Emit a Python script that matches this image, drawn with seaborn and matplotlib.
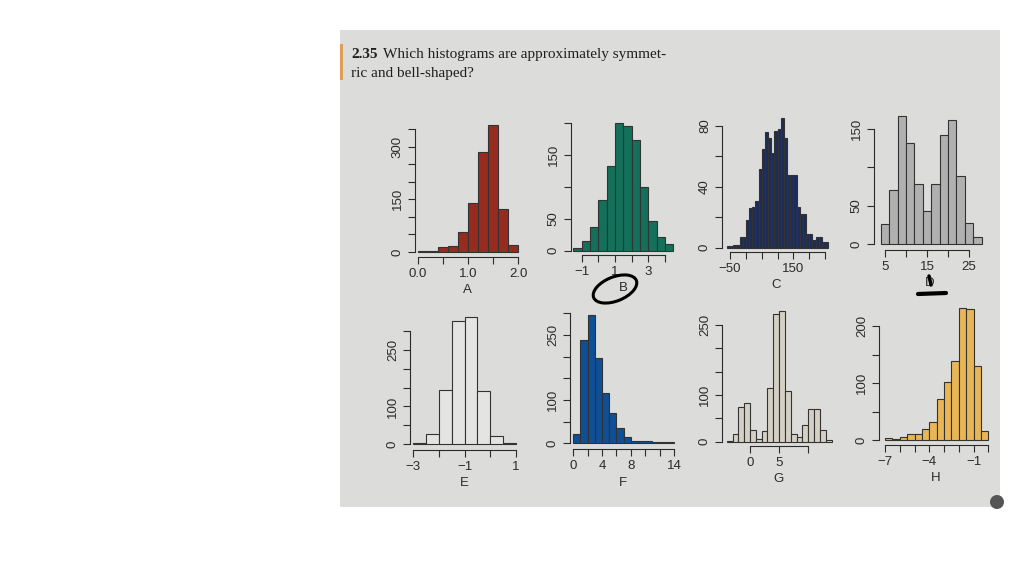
import matplotlib.pyplot as plt
import matplotlib.patches as mpatches
import matplotlib.lines as mlines
from matplotlib.transforms import IdentityTransform
import numpy as np
import pandas as pd
import seaborn as sns

# bins (start, stop, width) and counts
a_range = (0.0, 2.0, 0.2)
a_counts = [3, 3, 14, 17, 57, 139, 284, 360, 121, 20]
b_range = (-1.5, 4.5, 0.5)
b_counts = [5, 16, 37, 80, 133, 200, 195, 173, 100, 46, 22, 10]
c_range = (-60, 260, 10)
c_counts = [1, 1, 2, 2, 7, 7, 18, 26, 27, 31, 52, 65, 76, 72, 62, 77,
            78, 85, 72, 48, 48, 48, 27, 22, 22, 9, 9, 5, 7, 7, 4, 4]
d_range = (4, 28, 2)
d_counts = [26, 70, 167, 132, 79, 43, 79, 142, 162, 89, 28, 10]
e_range = (-3.0, 1.0, 0.5)
e_counts = [3, 26, 144, 325, 337, 142, 22, 3]
f_range = (0, 14, 1)
f_counts = [21, 239, 295, 198, 117, 69, 35, 15, 6, 6, 5, 3, 3, 3]
g_range = (-4, 14, 1)
g_counts = [2, 16, 75, 82, 25, 5, 23, 114, 273, 280, 108, 17, 9, 36, 69, 69, 24, 4]
h_range = (-7.0, 0.0, 0.5)
h_counts = [3, 2, 6, 10, 10, 20, 31, 72, 101, 139, 231, 229, 130, 16]

M = '\u2212'
a_xticks = [0, 0.5, 1.0, 1.5, 2.0]
a_xlabels = ['0.0', '', '1.0', '', '2.0']
b_xticks = [-1, 0, 1, 2, 3, 4]
b_xlabels = [M + '1', '', '1', '', '3', '']
c_xticks = [-50, 0, 50, 100, 150, 200, 250]
c_xlabels = [M + '50', '', '', '', '150', '', '']
d_xticks = [5, 10, 15, 20, 25]
d_xlabels = ['5', '', '15', '', '25']
e_xticks = [-3, -2, -1, 0, 1]
e_xlabels = [M + '3', '', M + '1', '', '1']
f_xticks = [0, 2, 4, 6, 8, 10, 12, 14]
f_xlabels = ['0', '', '4', '', '8', '', '', '14']
g_xticks = [0, 5, 10]
g_xlabels = ['0', '5', '']
h_xticks = [-7, -6, -5, -4, -3, -2, -1, 0]
h_xlabels = [M + '7', '', '', M + '4', '', '', M + '1', '']

a_yticks = [0, 50, 100, 150, 200, 250, 300, 350]
a_ylabels = ['0', '', '', '150', '', '', '300', '']
b_yticks = [0, 50, 100, 150, 200]
b_ylabels = ['0', '50', '', '150', '']
c_yticks = [0, 20, 40, 60, 80]
c_ylabels = ['0', '', '40', '', '80']
d_yticks = [0, 50, 100, 150]
d_ylabels = ['0', '50', '', '150']
e_yticks = [0, 50, 100, 150, 200, 250, 300]
e_ylabels = ['0', '', '100', '', '', '250', '']
f_yticks = [0, 50, 100, 150, 200, 250, 300]
f_ylabels = ['0', '', '100', '', '', '250', '']
g_yticks = [0, 50, 100, 150, 200, 250]
g_ylabels = ['0', '', '100', '', '', '250']
h_yticks = [0, 50, 100, 150, 200]
h_ylabels = ['0', '', '100', '', '200']

W, H = 1024, 576
sns.set_style('ticks')
plt.rcParams['font.family'] = ['Liberation Sans', 'DejaVu Sans']

fig = plt.figure(figsize=(W / 100, H / 100), dpi=100, facecolor='white')

# the photographed page
fig.patches.append(mpatches.Rectangle((340 / W, 1 - 507 / H), 660 / W, 477 / H,
                                      transform=fig.transFigure, facecolor='#dcdcda',
                                      edgecolor='none', zorder=-5))
fig.patches.append(mpatches.Rectangle((340 / W, 1 - 80 / H), 3 / W, 36 / H,
                                      transform=fig.transFigure, facecolor='#d9a05a',
                                      edgecolor='none', zorder=-4))

fig.text(351 / W, 1 - 58 / H, '2.35', fontsize=11, fontweight='bold',
         family='Liberation Serif', color='#1e1e1e')
fig.text(383 / W, 1 - 58 / H, 'Which histograms are approximately symmet-',
         fontsize=11, family='Liberation Serif', color='#1e1e1e')
fig.text(351 / W, 1 - 77 / H, 'ric and bell-shaped?', fontsize=11,
         family='Liberation Serif', color='#1e1e1e')

ink = '#2b2b2b'


def panel(rng, counts, color, label, xticks, xlabels, yticks, ylabels,
          xref, yref, yspine, xspine, xhi, yhi):
    fx = lambda v: xref[0][1] + (v - xref[0][0]) * (xref[1][1] - xref[0][1]) / (xref[1][0] - xref[0][0])
    fy = lambda v: yref[0][1] + (v - yref[0][0]) * (yref[1][1] - yref[0][1]) / (yref[1][0] - yref[0][0])
    ix = lambda p: xref[0][0] + (p - xref[0][1]) * (xref[1][0] - xref[0][0]) / (xref[1][1] - xref[0][1])
    iy = lambda p: yref[0][0] + (p - yref[0][1]) * (yref[1][0] - yref[0][0]) / (yref[1][1] - yref[0][1])
    xlo, ylo = ix(yspine), iy(xspine)
    left, right = yspine, fx(xhi)
    top = fy(yhi)
    ax = fig.add_axes([left / W, 1 - xspine / H, (right - left) / W, (xspine - top) / H])
    ax.set_facecolor('none')

    start, stop, width = rng
    edges = np.linspace(start, stop, len(counts) + 1)
    df = pd.DataFrame({'value': (edges[:-1] + edges[1:]) / 2, 'count': counts})
    sns.histplot(data=df, x='value', weights='count', bins=list(edges), ax=ax,
                 color=color, edgecolor='#333333', linewidth=0.8, alpha=1)

    ax.set_xlim(xlo, xhi)
    ax.set_ylim(ylo, yhi)
    ax.set_xticks(xticks)
    ax.set_xticklabels(xlabels)
    ax.set_yticks(yticks)
    ax.set_yticklabels(ylabels, rotation=90, va='center')
    for s in ['top', 'right']:
        ax.spines[s].set_visible(False)
    ax.spines['bottom'].set_bounds(xticks[0], xticks[-1])
    ax.spines['left'].set_bounds(yticks[0], yticks[-1])
    for s in ['bottom', 'left']:
        ax.spines[s].set_color(ink)
        ax.spines[s].set_linewidth(0.8)
    ax.tick_params(length=5, width=0.8, color=ink, labelcolor=ink,
                   labelsize=9.5, pad=3)
    ax.set_xlabel(label, fontsize=9.5, color=ink, labelpad=3)
    ax.set_ylabel('')
    return ax


panel(a_range, a_counts, '#982b20', 'A', a_xticks, a_xlabels, a_yticks, a_ylabels,
      ((0, 418), (2, 518)), ((0, 252), (350, 129)), 415, 257, 2.05, 370)
panel(b_range, b_counts, '#13705a', 'B', b_xticks, b_xlabels, b_yticks, b_ylabels,
      ((-1, 581.7), (3, 648.3)), ((0, 250.7), (200, 123.3)), 571, 255, 4.6, 210)
panel(c_range, c_counts, '#1c2d5a', 'C', c_xticks, c_xlabels, c_yticks, c_ylabels,
      ((-50, 730), (250, 825)), ((0, 247.7), (80, 126)), 722, 251.7, 265, 90)
panel(d_range, d_counts, '#b0b0b0', 'D', d_xticks, d_xlabels, d_yticks, d_ylabels,
      ((5, 885), (25, 969)), ((0, 244.3), (150, 129)), 874, 250, 29, 175)
panel(e_range, e_counts, '#e4e4e2', 'E', e_xticks, e_xlabels, e_yticks, e_ylabels,
      ((-3, 413.3), (1, 516)), ((0, 444.3), (300, 330.7)), 410, 450, 1.1, 340)
panel(f_range, f_counts, '#0f4f96', 'F', f_xticks, f_xlabels, f_yticks, f_ylabels,
      ((0, 573.3), (14, 674)), ((0, 443.3), (300, 313.3)), 570, 449.3, 14.3, 310)
panel(g_range, g_counts, '#d5d0c6', 'G', g_xticks, g_xlabels, g_yticks, g_ylabels,
      ((0, 750), (10, 808.3)), ((0, 441.7), (250, 325)), 722, 445.7, 14.5, 290)
panel(h_range, h_counts, '#e8b655', 'H', h_xticks, h_xlabels, h_yticks, h_ylabels,
      ((-7, 885), (0, 988.3)), ((0, 440), (200, 326)), 879, 445, 0.3, 240)

# pen marks on the page (pixel coordinates, origin bottom-left)
px = IdentityTransform()
fig.patches.append(mpatches.Ellipse((615, H - 289), 46, 24, angle=22, transform=px,
                                    fill=False, edgecolor='black', linewidth=2.2))
fig.lines.append(mlines.Line2D([918 / W, 946 / W], [1 - 294 / H, 1 - 293 / H],
                               transform=fig.transFigure, color='black', linewidth=3))
fig.lines.append(mlines.Line2D([929 / W, 931 / W], [1 - 276 / H, 1 - 285 / H],
                               transform=fig.transFigure, color='black', linewidth=2.5))
fig.patches.append(mpatches.Ellipse((997, H - 502), 14, 14, transform=px,
                                    facecolor='#555555', edgecolor='none'))

plt.savefig('out.png', dpi=100, facecolor='white')
